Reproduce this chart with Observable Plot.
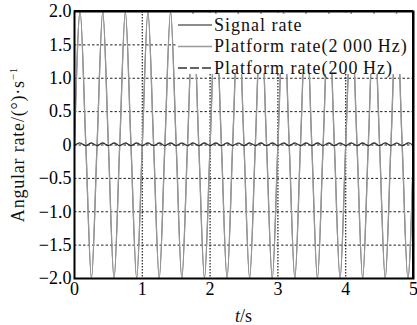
<!DOCTYPE html>
<html>
<head>
<meta charset="utf-8">
<script src="https://cdn.jsdelivr.net/npm/d3@7"></script>
<script src="https://cdn.jsdelivr.net/npm/@observablehq/plot@0.6"></script>
<style>
  html, body { margin: 0; padding: 0; background: #fff; }
  #chart { width: 417px; height: 325px; }
</style>
</head>
<body>
<div id="chart"></div>
<script>
// Sample times (s): zero crossings and extremes (3 Hz wave)
const times = [
  0, 0.083, 0.167, 0.25, 0.333, 0.417, 0.5, 0.583, 0.667, 0.75, 0.833, 0.917,
  1, 1.083, 1.167, 1.25, 1.333, 1.417, 1.5, 1.583, 1.667, 1.75, 1.833, 1.917,
  2, 2.083, 2.167, 2.25, 2.333, 2.417, 2.5, 2.583, 2.667, 2.75, 2.833, 2.917,
  3, 3.083, 3.167, 3.25, 3.333, 3.417, 3.5, 3.583, 3.667, 3.75, 3.833, 3.917,
  4, 4.083, 4.167, 4.25, 4.333, 4.417, 4.5, 4.583, 4.667, 4.75, 4.833, 4.917,
  5
];
// Signal rate and platform rate (2000 Hz) – they overlap
const signalRate = [
  0, 2, 0, -2, 0, 2, 0, -2, 0, 2, 0, -2,
  0, 2, 0, -2, 0, 2, 0, -2, 0, 2, 0, -2,
  0, 2, 0, -2, 0, 2, 0, -2, 0, 2, 0, -2,
  0, 2, 0, -2, 0, 2, 0, -2, 0, 2, 0, -2,
  0, 2, 0, -2, 0, 2, 0, -2, 0, 2, 0, -2,
  0
];
const platform2000 = [
  0, 2, 0, -2, 0, 2, 0, -2, 0, 2, 0, -2,
  0, 2, 0, -2, 0, 2, 0, -2, 0, 2, 0, -2,
  0, 2, 0, -2, 0, 2, 0, -2, 0, 2, 0, -2,
  0, 2, 0, -2, 0, 2, 0, -2, 0, 2, 0, -2,
  0, 2, 0, -2, 0, 2, 0, -2, 0, 2, 0, -2,
  0
];
// Platform rate (200 Hz): small ripple around zero
const platform200 = [
  -0.01, 0.03, -0.01, 0.03, -0.01, 0.03, -0.01, 0.03, -0.01, 0.03, -0.01, 0.03,
  -0.01, 0.03, -0.01, 0.03, -0.01, 0.03, -0.01, 0.03, -0.01, 0.03, -0.01, 0.03,
  -0.01, 0.03, -0.01, 0.03, -0.01, 0.03, -0.01, 0.03, -0.01, 0.03, -0.01, 0.03,
  -0.01, 0.03, -0.01, 0.03, -0.01, 0.03, -0.01, 0.03, -0.01, 0.03, -0.01, 0.03,
  -0.01, 0.03, -0.01, 0.03, -0.01, 0.03, -0.01, 0.03, -0.01, 0.03, -0.01, 0.03,
  -0.01
];
const xTicks = [0, 1, 2, 3, 4, 5];
const yTicks = [-2, -1.5, -1, -0.5, 0, 0.5, 1, 1.5, 2];
const xGrid = [1, 2, 3, 4];
const yGrid = [-1.5, -1, -0.5, 0, 0.5, 1, 1.5];
const seriesNames = ["Signal rate", "Platform rate(2\u2009000\u2009Hz)", "Platform rate(200\u2009Hz)"];

const sig = times.map((t, i) => ({t, v: signalRate[i]}));
const p2000 = times.map((t, i) => ({t, v: platform2000[i]}));
const p200 = times.map((t, i) => ({t, v: platform200[i]}));

const fmtY = d => d === 0 ? "0" : (d < 0 ? "\u2212" : "") + Math.abs(d).toFixed(1);

const plot = Plot.plot({
  width: 417,
  height: 325,
  marginLeft: 74,
  marginRight: 4,
  marginTop: 11,
  marginBottom: 47,
  style: {fontFamily: "'Liberation Serif', serif", fontSize: "18px", background: "#fff"},
  x: {domain: [0, 5]},
  y: {domain: [-2, 2]},
  marks: [
    Plot.ruleY(yGrid, {stroke: "#222", strokeWidth: 1, strokeDasharray: "2.5,2"}),
    Plot.ruleX(xGrid, {stroke: "#222", strokeWidth: 1.2, strokeDasharray: "1.5,1.5"}),
    Plot.line(sig, {x: "t", y: "v", curve: "monotone-x", stroke: "#777", strokeWidth: 1.3, clip: true}),
    Plot.line(p2000, {x: "t", y: "v", curve: "monotone-x", stroke: "#999", strokeWidth: 1.1, clip: true}),
    Plot.line(p200, {x: "t", y: "v", curve: "natural", stroke: "#333", strokeWidth: 1.3, strokeDasharray: "6,1"}),
    Plot.axisX({ticks: xTicks, tickSize: 0, tickPadding: 4, label: null, tickFormat: d => String(d)}),
    Plot.axisY({ticks: yTicks, tickSize: 0, tickPadding: 3, label: null, tickFormat: fmtY}),
    Plot.frame({stroke: "#000", strokeWidth: 2})
  ]
});
document.getElementById("chart").appendChild(plot);

const svgEl = plot.tagName.toLowerCase() === "svg" ? plot : plot.querySelector("svg");
const svg = d3.select(svgEl);
const xs = plot.scale("x"), ys = plot.scale("y");
const x0 = xs.apply(0), x5 = xs.apply(5);
const yTop = ys.apply(2), yBot = ys.apply(-2);

// Legend
const lg = svg.append("g").attr("class", "legend-box");
lg.append("rect")
  .attr("x", 176).attr("y", yTop + 3)
  .attr("width", x5 - 177).attr("height", 60)
  .style("fill", "#ffffff").style("stroke", "none").style("opacity", 1);
const rows = [
  {name: seriesNames[0], stroke: "#666", dash: null, w: 1.3},
  {name: seriesNames[1], stroke: "#999", dash: null, w: 1.3},
  {name: seriesNames[2], stroke: "#333", dash: "9,3", w: 1.6}
];
rows.forEach((r, i) => {
  const y = 25 + i * 21.5;
  const ln = lg.append("line").attr("x1", 178).attr("x2", 212).attr("y1", y).attr("y2", y)
    .style("stroke", r.stroke).style("stroke-width", r.w);
  if (r.dash) ln.style("stroke-dasharray", r.dash);
  lg.append("text").attr("x", 214).attr("y", y).attr("dy", "0.32em")
    .attr("text-anchor", "start")
    .attr("font-family", "'Liberation Serif', serif").attr("font-size", 18)
    .attr("letter-spacing", 1).style("fill", "#111").text(r.name);
});
// frame edges on top of legend
svg.append("line").attr("x1", x5).attr("x2", x5).attr("y1", yTop).attr("y2", yBot).style("stroke", "#000").style("stroke-width", 2);
svg.append("line").attr("x1", x0).attr("x2", x5).attr("y1", yTop).attr("y2", yTop).style("stroke", "#000").style("stroke-width", 2);

// Axis titles
const xt = svg.append("text").attr("x", (x0 + x5) / 2).attr("y", 316).attr("dy", "0.32em")
  .attr("text-anchor", "middle").attr("font-family", "'Liberation Serif', serif").attr("font-size", 18).style("fill", "#111");
xt.append("tspan").attr("font-style", "italic").text("t");
xt.append("tspan").text("/s");

const yt = svg.append("text").attr("transform", `translate(18,${(yTop + yBot) / 2}) rotate(-90)`)
  .attr("text-anchor", "middle").attr("dy", "0.32em").attr("font-family", "'Liberation Serif', serif")
  .attr("font-size", 18).attr("letter-spacing", 0.8).style("fill", "#111");
yt.append("tspan").text("Angular rate/(\u00B0)\u00B7s");
yt.append("tspan").attr("font-size", 11).attr("dy", "-0.6em").text("\u22121");
</script>
</body>
</html>
